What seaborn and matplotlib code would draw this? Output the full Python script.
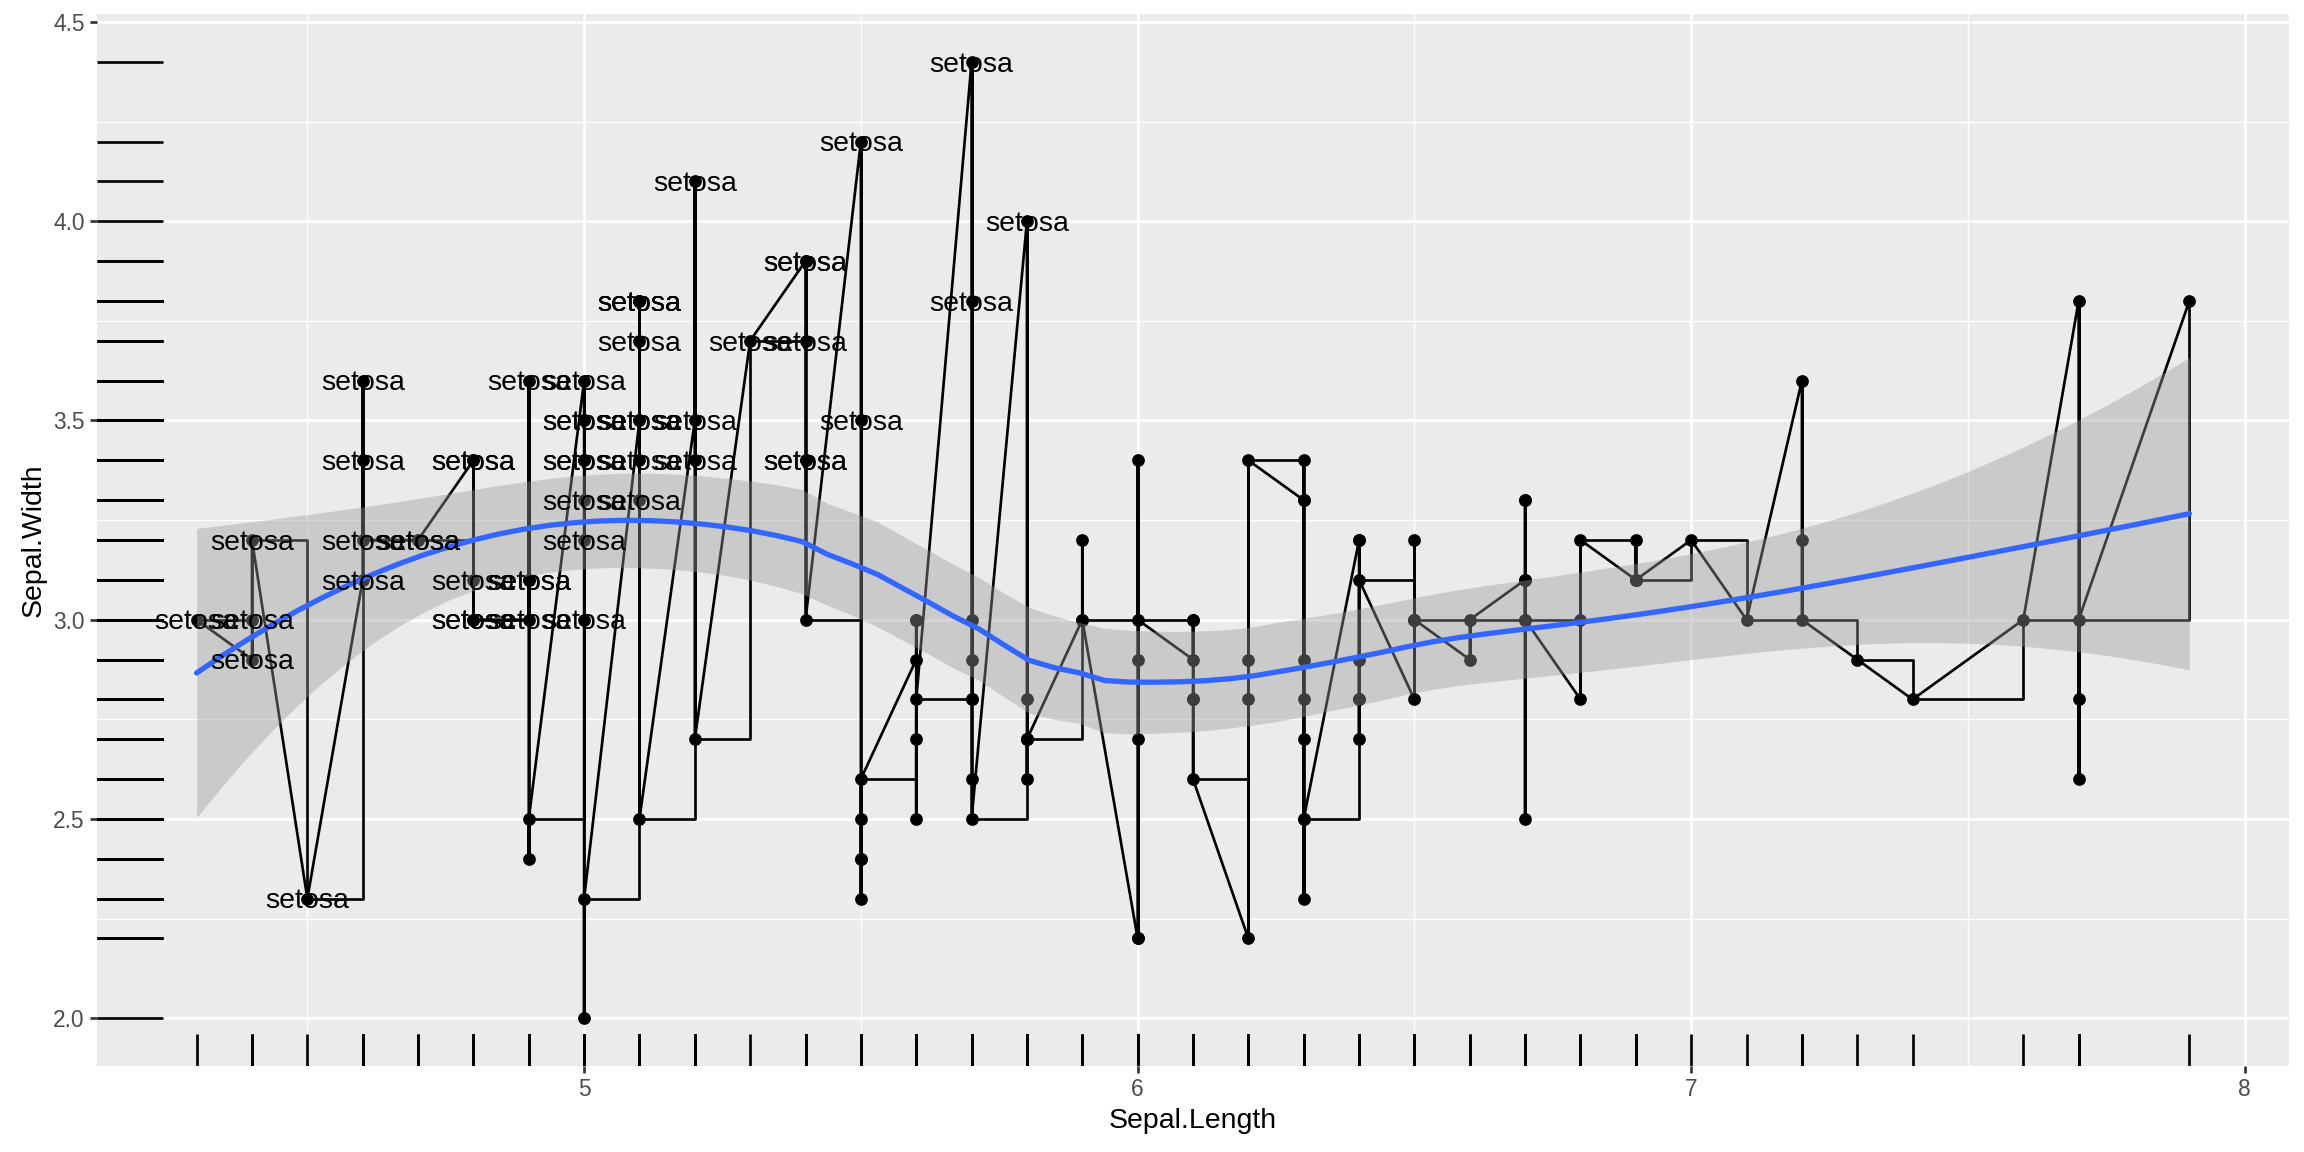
import numpy as np
import pandas as pd
import matplotlib
matplotlib.use("Agg")
import matplotlib.pyplot as plt
import seaborn as sns

# === Data: iris sepal measurements ===
sepal_length = [
    5.1, 4.9, 4.7, 4.6, 5.0, 5.4, 4.6, 5.0, 4.4, 4.9, 5.4, 4.8, 4.8, 4.3, 5.8, 5.7, 5.4, 5.1, 5.7, 5.1,
    5.4, 5.1, 4.6, 5.1, 4.8, 5.0, 5.0, 5.2, 5.2, 4.7, 4.8, 5.4, 5.2, 5.5, 4.9, 5.0, 5.5, 4.9, 4.4, 5.1,
    5.0, 4.5, 4.4, 5.0, 5.1, 4.8, 5.1, 4.6, 5.3, 5.0,
    7.0, 6.4, 6.9, 5.5, 6.5, 5.7, 6.3, 4.9, 6.6, 5.2, 5.0, 5.9, 6.0, 6.1, 5.6, 6.7, 5.6, 5.8, 6.2, 5.6,
    5.9, 6.1, 6.3, 6.1, 6.4, 6.6, 6.8, 6.7, 6.0, 5.7, 5.5, 5.5, 5.8, 6.0, 5.4, 6.0, 6.7, 6.3, 5.6, 5.5,
    5.5, 6.1, 5.8, 5.0, 5.6, 5.7, 5.7, 6.2, 5.1, 5.7,
    6.3, 5.8, 7.1, 6.3, 6.5, 7.6, 4.9, 7.3, 6.7, 7.2, 6.5, 6.4, 6.8, 5.7, 5.8, 6.4, 6.5, 7.7, 7.7, 6.0,
    6.9, 5.6, 7.7, 6.3, 6.7, 7.2, 6.2, 6.1, 6.4, 7.2, 7.4, 7.9, 6.4, 6.3, 6.1, 7.7, 6.3, 6.4, 6.0, 6.9,
    6.7, 6.9, 5.8, 6.8, 6.7, 6.7, 6.3, 6.5, 6.2, 5.9,
]
sepal_width = [
    3.5, 3.0, 3.2, 3.1, 3.6, 3.9, 3.4, 3.4, 2.9, 3.1, 3.7, 3.4, 3.0, 3.0, 4.0, 4.4, 3.9, 3.5, 3.8, 3.8,
    3.4, 3.7, 3.6, 3.3, 3.4, 3.0, 3.4, 3.5, 3.4, 3.2, 3.1, 3.4, 4.1, 4.2, 3.1, 3.2, 3.5, 3.6, 3.0, 3.4,
    3.5, 2.3, 3.2, 3.5, 3.8, 3.0, 3.8, 3.2, 3.7, 3.3,
    3.2, 3.2, 3.1, 2.3, 2.8, 2.8, 3.3, 2.4, 2.9, 2.7, 2.0, 3.0, 2.2, 2.9, 2.9, 3.1, 3.0, 2.7, 2.2, 2.5,
    3.2, 2.8, 2.5, 2.8, 2.9, 3.0, 2.8, 3.0, 2.9, 2.6, 2.4, 2.4, 2.7, 2.7, 3.0, 3.4, 3.1, 2.3, 3.0, 2.5,
    2.6, 3.0, 2.6, 2.3, 2.7, 3.0, 2.9, 2.9, 2.5, 2.8,
    3.3, 2.7, 3.0, 2.9, 3.0, 3.0, 2.5, 2.9, 2.5, 3.6, 3.2, 2.7, 3.0, 2.5, 2.8, 3.2, 3.0, 3.8, 2.6, 2.2,
    3.2, 2.8, 2.8, 2.7, 3.3, 3.2, 2.8, 3.0, 2.8, 3.0, 2.8, 3.8, 2.8, 2.8, 2.6, 3.0, 3.4, 3.1, 3.0, 3.1,
    3.1, 3.1, 2.7, 3.2, 3.3, 3.0, 2.5, 3.0, 3.4, 3.0,
]
species = ["setosa"] * 50 + ["versicolor"] * 50 + ["virginica"] * 50

df = pd.DataFrame({"Sepal.Length": sepal_length, "Sepal.Width": sepal_width, "Species": species})
# geom_line / geom_step order: by x, ties kept in data order
df_sorted = df.sort_values("Sepal.Length", kind="mergesort").reset_index(drop=True)


# === Loess (span 0.75, degree 2) with standard errors ===
def loess_matrix(x, x_eval, span=0.75):
    n = len(x)
    q = int(np.floor(n * span))
    L = np.zeros((len(x_eval), n))
    for i, x0 in enumerate(x_eval):
        d = np.abs(x - x0)
        h = np.sort(d)[q - 1]
        u = np.clip(d / h, 0, 1)
        w = (1 - u ** 3) ** 3
        X = np.column_stack([np.ones(n), x - x0, (x - x0) ** 2])
        XtW = X.T * w
        L[i] = np.linalg.solve(XtW @ X, XtW)[0]
    return L


xv = df["Sepal.Length"].to_numpy()
yv = df["Sepal.Width"].to_numpy()
x_grid = np.linspace(xv.min(), xv.max(), 80)
L_data = loess_matrix(xv, xv)
L_grid = loess_matrix(xv, x_grid)
resid = yv - L_data @ yv
IL = np.eye(len(xv)) - L_data
M = IL.T @ IL
one_delta = np.trace(M)
two_delta = np.trace(M @ M)
sigma = np.sqrt(np.sum(resid ** 2) / one_delta)
dof = one_delta ** 2 / two_delta
z = 1.959964
t_q = z + (z ** 3 + z) / (4 * dof) + (5 * z ** 5 + 16 * z ** 3 + 3 * z) / (96 * dof ** 2)
fit = L_grid @ yv
se = sigma * np.sqrt(np.sum(L_grid ** 2, axis=1))
smooth = pd.DataFrame({"x": x_grid, "fit": fit, "lo": fit - t_q * se, "hi": fit + t_q * se})

# === Plot ===
sns.set_theme(style="darkgrid")
plt.rcParams["font.family"] = ["Liberation Sans", "DejaVu Sans"]

fig = plt.figure(figsize=(12.8, 6.4), dpi=180)
ax = fig.add_axes([97 / 2304, (1152 - 1066) / 1152, (2289 - 97) / 2304, (1066 - 14) / 1152])
ax.set_facecolor("#EBEBEB")

sns.scatterplot(data=df, x="Sepal.Length", y="Sepal.Width", color="black", s=26,
                linewidth=0, zorder=3, ax=ax)
sns.lineplot(data=df_sorted, x="Sepal.Length", y="Sepal.Width", sort=False, estimator=None,
             color="black", linewidth=1.07, zorder=3.1, ax=ax)
sns.lineplot(data=df_sorted, x="Sepal.Length", y="Sepal.Width", sort=False, estimator=None,
             color="black", linewidth=1.07, drawstyle="steps-post", zorder=3.2, ax=ax)

ax.fill_between(smooth["x"], smooth["lo"], smooth["hi"], color="#999999", alpha=0.4,
                linewidth=0, zorder=3.3)
sns.lineplot(data=smooth, x="x", y="fit", color="#3366FF", linewidth=2.13, sort=False,
             estimator=None, zorder=3.4, ax=ax)

for _, row in df[df["Species"] == "setosa"].iterrows():
    ax.annotate("setosa", (row["Sepal.Length"], row["Sepal.Width"]), xytext=(0, -3.9),
                textcoords="offset points", ha="center", va="baseline",
                fontsize=11.4, color="black", zorder=3.5)

sns.rugplot(data=df, x="Sepal.Length", height=0.03, color="black", linewidth=1.07,
            zorder=3.6, ax=ax)
sns.rugplot(data=df, y="Sepal.Width", height=0.03, color="black", linewidth=1.07,
            zorder=3.6, ax=ax)

# === ggplot-like axes ===
ax.set_xlim(4.12, 8.08)
ax.set_ylim(1.88, 4.52)
ax.set_xticks([5, 6, 7, 8])
ax.set_xticklabels(["5", "6", "7", "8"])
ax.set_yticks([2.0, 2.5, 3.0, 3.5, 4.0, 4.5])
ax.set_yticklabels(["2.0", "2.5", "3.0", "3.5", "4.0", "4.5"])
ax.set_xticks([4.5, 5.5, 6.5, 7.5], minor=True)
ax.set_yticks([2.25, 2.75, 3.25, 3.75, 4.25], minor=True)
ax.grid(which="major", color="white", linewidth=1.07)
ax.grid(which="minor", color="white", linewidth=0.53)
ax.set_axisbelow(True)
for s in ax.spines.values():
    s.set_visible(False)
ax.tick_params(axis="both", which="major", length=2.75, width=1.07, color="#333333",
               labelsize=9.1, labelcolor="#4D4D4D", pad=2.2, bottom=True, left=True)
ax.tick_params(axis="both", which="minor", length=0)
ax.set_xlabel("Sepal.Length", fontsize=11.4, color="black", labelpad=2.75)
ax.set_ylabel("Sepal.Width", fontsize=11.4, color="black", labelpad=2.75)

fig.savefig("out.png", dpi=180, facecolor="white")
